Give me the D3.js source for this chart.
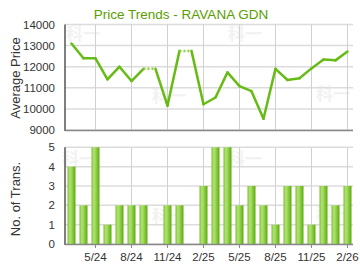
<!DOCTYPE html>
<html>
<head>
<meta charset="utf-8">
<script src="https://cdn.jsdelivr.net/npm/d3@7"></script>
<style>
  body { margin: 0; background: #fff; }
  svg { display: block; font-family: "Liberation Sans", Arial, sans-serif; }
</style>
</head>
<body>
<svg id="chart" width="360" height="270"></svg>
<script>
// months 3/24 .. 2/26
const months = ["3/24","4/24","5/24","6/24","7/24","8/24","9/24","10/24","11/24","12/24","1/25","2/25",
                "3/25","4/25","5/25","6/25","7/25","8/25","9/25","10/25","11/25","12/25","1/26","2/26"];
// average price, null = no transaction that month
const prices = [13100, 12400, 12400, 11400, 12000, 11320, 11900, null, 10150, 12750, null, 10220,
                10540, 11730, 11080, 10840, 9530, 11900, 11370, 11450, 11920, 12340, 12300, 12720];
const trans = [4, 2, 5, 1, 2, 2, 2, 0, 2, 2, 0, 3, 5, 5, 2, 3, 2, 1, 3, 3, 1, 3, 2, 3];
const tickLabels = ["5/24","8/24","11/24","2/25","5/25","8/25","11/25","2/26"];
const priceTicks = [9000, 10000, 11000, 12000, 13000, 14000];
const transTicks = [0, 1, 2, 3, 4, 5];

const svg = d3.select("#chart");
const green = "#66bb14";

const x = d3.scaleLinear().domain([-0.54, 23.46]).range([65, 353]);
const yP = d3.scaleLinear().domain([9000, 14000]).range([130, 24.5]);
const yT = d3.scaleLinear().domain([0, 5]).range([244, 147.3]);

const tickIdx = tickLabels.map(t => months.indexOf(t));

// gradient for bars
const grad = svg.append("defs").append("linearGradient").attr("id", "barGrad")
    .attr("x1", "0%").attr("x2", "100%").attr("y1", "0%").attr("y2", "0%");
grad.append("stop").attr("offset", "0%").attr("stop-color", "#7cc22c");
grad.append("stop").attr("offset", "30%").attr("stop-color", "#b4e27a");
grad.append("stop").attr("offset", "60%").attr("stop-color", "#8fd044");
grad.append("stop").attr("offset", "100%").attr("stop-color", "#5aa80c");

// watermarks
const wm = [[66, 40], [228, 40], [152, 102], [316, 100], [62, 165], [228, 165], [152, 222], [316, 220]];
svg.append("g").selectAll("text").data(wm).join("text")
    .attr("x", d => d[0]).attr("y", d => d[1])
    .attr("font-size", 17).attr("font-weight", "bold")
    .attr("fill", "#f2f2f2")
    .style("font-family", "'Noto Sans CJK SC', sans-serif")
    .text("科一");

function panel(y, ticks, fmt) {
    const g = svg.append("g");
    const [y0, y1] = y.range();
    // horizontal grid
    g.selectAll(".hg").data(ticks).join("line")
        .attr("x1", x.range()[0]).attr("x2", x.range()[1])
        .attr("y1", d => y(d)).attr("y2", d => y(d))
        .attr("stroke", "#dcdcdc").attr("stroke-width", 1.5);
    // vertical grid
    g.selectAll(".vg").data(tickIdx).join("line")
        .attr("x1", d => x(d)).attr("x2", d => x(d))
        .attr("y1", y1).attr("y2", y0)
        .attr("stroke", "#d0d0d0").attr("stroke-width", 1);
    // y labels
    g.selectAll(".yl").data(ticks).join("text")
        .attr("x", 55).attr("y", d => y(d) + 4)
        .attr("text-anchor", "end").attr("font-size", 11.5).attr("fill", "#333")
        .text(fmt);
    return g;
}

// top panel
panel(yP, priceTicks, d => d);

// line segments, missing months carried forward and drawn dotted
const filled = [];
prices.forEach((p, i) => filled.push(p === null ? filled[i - 1] : p));
const line = d3.line().x(d => x(d[0])).y(d => yP(d[1]));
const segs = d3.range(1, months.length).map(i => ({
    pts: [[i - 1, filled[i - 1]], [i, filled[i]]],
    dotted: prices[i] === null
}));
svg.append("g").selectAll("path").data(segs).join("path")
    .attr("d", d => line(d.pts))
    .attr("fill", "none")
    .attr("stroke", d => d.dotted ? "#8fd040" : green)
    .attr("stroke-width", 2.5)
    .attr("stroke-linecap", d => d.dotted ? "butt" : "round")
    .attr("stroke-dasharray", d => d.dotted ? "2,2" : null);

// top axes
svg.append("line").attr("x1", 65).attr("x2", 65).attr("y1", yP.range()[1]).attr("y2", yP.range()[0] + 1)
    .attr("stroke", "#555").attr("stroke-width", 1.5);
svg.append("line").attr("x1", 65).attr("x2", 353).attr("y1", yP.range()[0] + 0.5).attr("y2", yP.range()[0] + 0.5)
    .attr("stroke", "#888").attr("stroke-width", 1.5);

// bottom panel
panel(yT, transTicks, d => d);

svg.append("g").selectAll("rect").data(trans).join("rect")
    .attr("x", (d, i) => x(i) - 4)
    .attr("y", d => yT(d))
    .attr("width", 8)
    .attr("height", d => yT(0) - yT(d))
    .attr("fill", "url(#barGrad)");

svg.append("line").attr("x1", 65).attr("x2", 65).attr("y1", yT.range()[1]).attr("y2", yT.range()[0] + 1)
    .attr("stroke", "#555").attr("stroke-width", 1.5);
svg.append("line").attr("x1", 65).attr("x2", 353).attr("y1", yT(0) + 0.5).attr("y2", yT(0) + 0.5)
    .attr("stroke", "#888").attr("stroke-width", 1.5);

// x ticks and labels
const xt = svg.append("g");
xt.selectAll("line").data(tickIdx).join("line")
    .attr("x1", d => x(d)).attr("x2", d => x(d))
    .attr("y1", yT(0)).attr("y2", yT(0) + 4)
    .attr("stroke", "#888");
xt.selectAll("text").data(tickIdx).join("text")
    .attr("x", d => x(d)).attr("y", 261)
    .attr("text-anchor", "middle").attr("font-size", 11.5).attr("fill", "#333")
    .text(d => months[d]);

// titles
svg.append("text").attr("x", 181).attr("y", 19).attr("text-anchor", "middle")
    .attr("font-size", 13.5).attr("fill", "#5a9e00").text("Price Trends - RAVANA GDN");
svg.append("text").attr("transform", "translate(20,78) rotate(-90)").attr("text-anchor", "middle")
    .attr("font-size", 13).attr("fill", "#333").text("Average Price");
svg.append("text").attr("transform", "translate(20,199) rotate(-90)").attr("text-anchor", "middle")
    .attr("font-size", 13).attr("fill", "#333").text("No. of Trans.");
</script>
</body>
</html>
